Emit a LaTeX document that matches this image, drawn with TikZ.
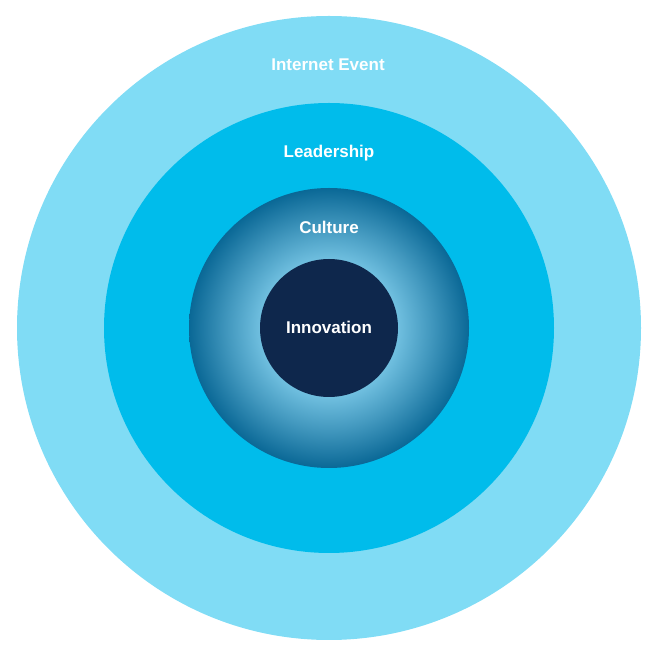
\documentclass[tikz,border=0pt]{standalone}
\usepackage{fontspec}
\setmainfont{Liberation Sans}
\definecolor{ringA}{HTML}{80DCF5}
\definecolor{ringB}{HTML}{00BCEB}
\definecolor{cultLight}{HTML}{72C1E1}
\definecolor{cultDark}{HTML}{0A6896}
\definecolor{core}{HTML}{0E274C}
\pgfdeclareradialshading{culture}{\pgfpointorigin}{color(0bp)=(cultLight); color(12bp)=(cultLight); color(18bp)=(cultLight!55!cultDark); color(25bp)=(cultDark); color(50bp)=(cultDark)}
\begin{document}
\begin{tikzpicture}[x=1pt,y=1pt,
  lbl/.style={text=white,font=\fontsize{17}{20}\selectfont\bfseries,inner sep=0pt,anchor=base}]
\useasboundingbox (0,0) rectangle (659,648);
\coordinate (c) at (329,320);
\fill[ringA] (c) circle (312);
\fill[ringB] (c) circle (225);
\shade[shading=culture] (c) circle (140);
\fill[core] (c) circle (69);
\node[lbl] (internet) at (328,577) {Internet Event};
\node[lbl] (leader) at (329,490) {Leadership};
\node[lbl] (culture) at (329,414) {Culture};
\node[lbl] (innov) at (329,314) {Innovation};
\end{tikzpicture}
\end{document}
